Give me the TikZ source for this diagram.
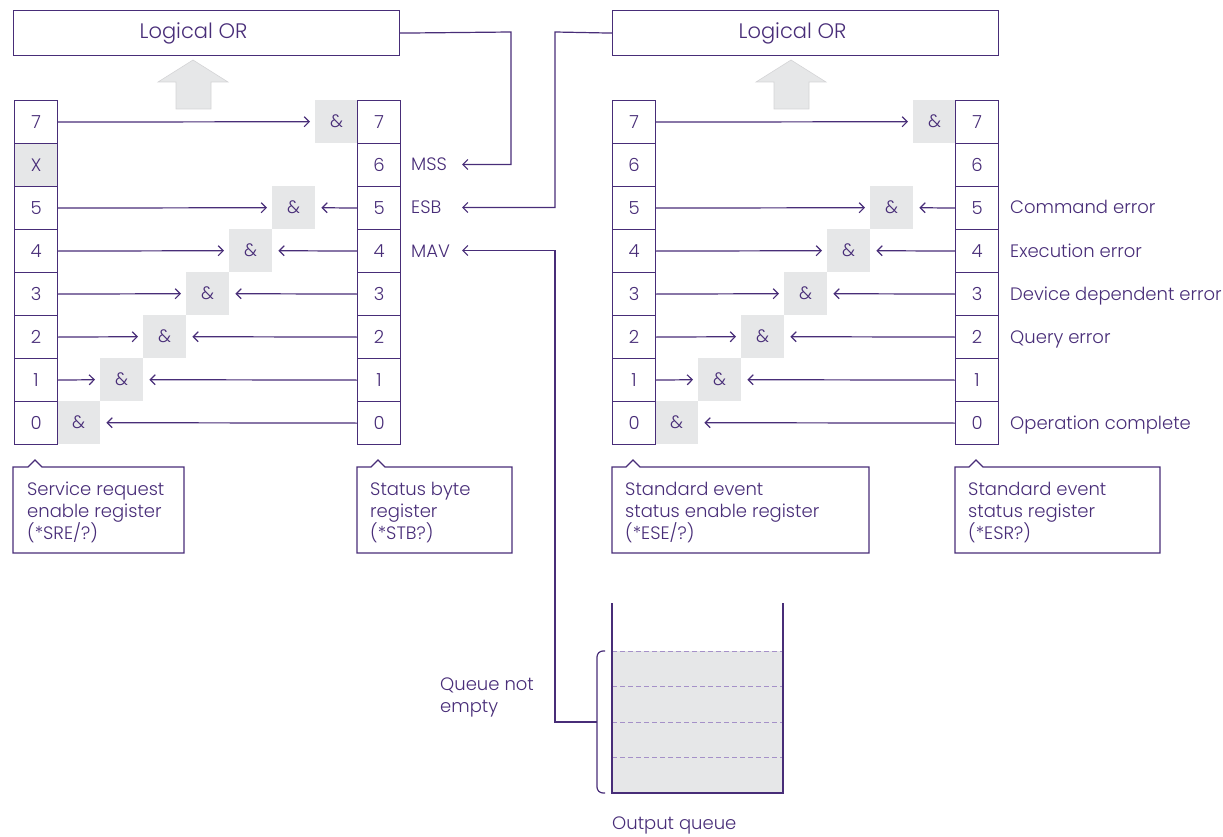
\documentclass[tikz,border=0pt]{standalone}
\usepackage{fontspec}
\IfFontExistsTF{Poppins Light}{\setmainfont{Poppins Light}}{\setmainfont{Poppins}}
\usetikzlibrary{arrows.meta}
\definecolor{pur}{RGB}{72,45,120}
\definecolor{gfill}{RGB}{230,231,232}
\definecolor{gedge}{RGB}{212,212,214}
\definecolor{dashc}{RGB}{165,145,200}
\begin{document}
\begin{tikzpicture}[x=1pt,y=-1pt,
  every node/.style={text=pur, font=\fontsize{18}{22}\selectfont},
  cell/.style={draw=pur, line width=1.2pt, fill=white, minimum width=43pt, minimum height=43pt, inner sep=0pt, anchor=north west},
  andbox/.style={fill=gfill, minimum width=43pt, minimum height=43pt, inner sep=0pt, anchor=north west},
  orbox/.style={draw=pur, line width=1.2pt, minimum width=386pt, minimum height=45pt, inner sep=0pt, anchor=north west},
  ortext/.style={inner sep=0pt, font=\fontsize{21}{24}\selectfont},
  conn/.style={draw=pur, line width=1.2pt},
  arr/.style={conn, -{Straight Barb[length=5pt,width=10pt]}},
  lab/.style={anchor=base west, inner sep=0pt, yshift=-6.5pt},
  ctext/.style={anchor=base west, align=left, inner sep=0pt},
  bigarrow/.style={fill=gfill, draw=gedge, line width=0.6pt},
]
\useasboundingbox (0,0) rectangle (1223,837);

% Logical OR boxes
\node[orbox] (OR1) at (13,10) {};
\node[orbox] (OR2) at (612,10) {};
\node[ortext] (ORt1) at ([xshift=-13pt]OR1.center) {Logical OR};
\node[ortext] (ORt2) at ([xshift=-13pt]OR2.center) {Logical OR};

% big grey up arrows
\draw[bigarrow] (158,82) -- (193,60) -- (228,82) -- (211,82) -- (211,109) -- (176,109) -- (176,82) -- cycle;
\draw[bigarrow] (756,82) -- (791,60) -- (826,82) -- (809,82) -- (809,109) -- (774,109) -- (774,82) -- cycle;

% & boxes
\foreach \b/\k/\p in {7/0/6,5/2/5,4/3/4,3/4/3,2/5/2,1/6/1,0/7/0} {
  \node[andbox] (A\b) at (57+43*\p,100+43*\k) {\&};
  \node[andbox] (B\b) at (655+43*\p,100+43*\k) {\&};
}

% registers
\foreach \b/\k in {7/0,6/1,5/2,4/3,3/4,2/5,1/6,0/7} {
  \node[cell] (S\b) at (357,100+43*\k) {\b};
  \node[cell] (E\b) at (612,100+43*\k) {\b};
  \node[cell] (R\b) at (955,100+43*\k) {\b};
}
\foreach \b/\k in {7/0,5/2,4/3,3/4,2/5,1/6,0/7} {
  \node[cell] (L\b) at (14,100+43*\k) {\b};
}
\node[cell, fill=gfill] (L6) at (14,143) {X};

% arrows into & boxes
\foreach \b in {7,5,4,3,2,1} {
  \draw[arr] (L\b.east) -- ([xshift=-5pt]A\b.west);
  \draw[arr] (E\b.east) -- ([xshift=-5pt]B\b.west);
}
\foreach \b in {5,4,3,2,1,0} {
  \draw[arr] (S\b.west) -- ([xshift=6pt]A\b.east);
  \draw[arr] (R\b.west) -- ([xshift=6pt]B\b.east);
}

% status byte labels
\node[lab] (mss) at (411,164.5) {MSS};
\node[lab] (esb) at (411,207.5) {ESB};
\node[lab] (mav) at (411,250.5) {MAV};
\coordinate (mssin) at (462,164.5);
\coordinate (esbin) at (462,207.5);
\coordinate (mavin) at (462,250.5);

% event labels
\node[lab] (l5) at (1010,207.5) {Command error};
\node[lab] (l4) at (1010,250.5) {Execution error};
\node[lab] (l3) at (1010,293.5) {Device dependent error};
\node[lab] (l2) at (1010,336.5) {Query error};
\node[lab] (l0) at (1010,422.5) {Operation complete};

% output queue
\fill[gfill] (612,651) rectangle (783,793);
\foreach \yy in {651,686,722,757} {
  \draw[dashc, line width=1pt, dash pattern=on 5pt off 3pt] (612,\yy) -- (783,\yy);
}
\draw[conn] (612,603) -- (612,793) -- (783,793) -- (783,603);
\draw[conn, rounded corners=6pt] (605,651) -- (597,651) -- (597,793) -- (605,793);
\coordinate (brk) at (597,722);
\node[ctext] (qne) at (440,712) {Queue not\\empty};
\node[ctext] (oq) at (612,829) {Output queue};

% connectors to status byte
\draw[arr] (OR1.east) -- (511,32) -- (511,164.5) -- (mssin);
\draw[arr] (OR2.west) -- (555,32) -- (555,207.5) -- (esbin);
\draw[arr] (brk) -- (555,722) -- (555,250.5) -- (mavin);

% callouts
\draw[conn] (13,467) -- (28,467) -- (35,460) -- (42,467) -- (184,467) -- (184,553) -- (13,553) -- cycle;
\node[ctext] (c1) at (27,539) {Service request\\enable register\\(*SRE/?)};
\draw[conn] (357,467) -- (371,467) -- (378,460) -- (385,467) -- (512,467) -- (512,553) -- (357,553) -- cycle;
\node[ctext] (c2) at (370,539) {Status byte\\register\\(*STB?)};
\draw[conn] (612,467) -- (626,467) -- (633,460) -- (640,467) -- (869,467) -- (869,553) -- (612,553) -- cycle;
\node[ctext] (c3) at (625,539) {Standard event\\status enable register\\(*ESE/?)};
\draw[conn] (955,467) -- (969,467) -- (976,460) -- (983,467) -- (1160,467) -- (1160,553) -- (955,553) -- cycle;
\node[ctext] (c4) at (968,539) {Standard event\\status register\\(*ESR?)};
\end{tikzpicture}
\end{document}
